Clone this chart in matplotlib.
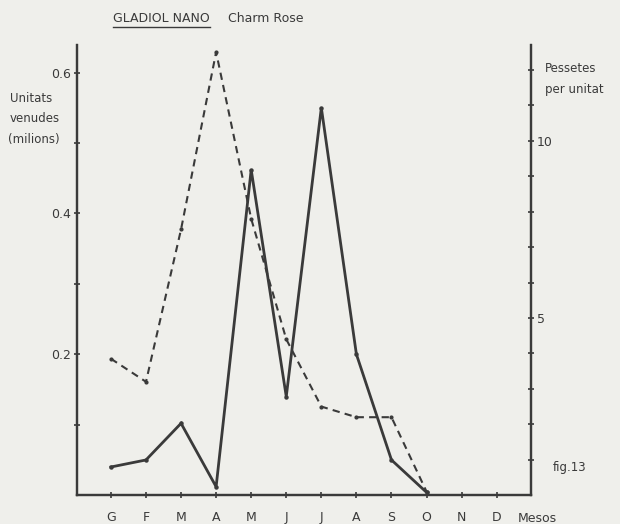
import matplotlib
matplotlib.use("Agg")
import matplotlib.pyplot as plt
from matplotlib.lines import Line2D

# valors llegits de la figura
mesos = ['G', 'F', 'M', 'A', 'M', 'J', 'J', 'A', 'S', 'O', 'N', 'D']
unitats = [0.040, 0.050, 0.102, 0.012, 0.462, 0.140, 0.550, 0.200, 0.050, 0.004]
pessetes = [3.85, 3.2, 7.5, 12.5, 7.8, 4.4, 2.5, 2.2, 2.2, 0.1]

ticks_esq = [0.1, 0.2, 0.3, 0.4, 0.5, 0.6]
etiq_esq = ['', '0.2', '', '0.4', '', '0.6']
ticks_dre = list(range(1, 13))
etiq_dre = ['', '', '', '', '5', '', '', '', '', '10', '', '']

fons = '#efefeb'
tinta = '#3a3a3a'
plt.rcParams['font.family'] = ['DejaVu Sans']

fig = plt.figure(figsize=(6.2, 5.24), dpi=100, facecolor=fons)
ax = fig.add_axes([0.124, 0.055, 0.732, 0.859])
ax.set_facecolor(fons)
ax2 = ax.twinx()

x_u = list(range(len(unitats)))
x_p = list(range(len(pessetes)))

ax.plot(x_u, unitats, color=tinta, lw=2.0, marker='o', ms=2.2,
        solid_joinstyle='miter', zorder=3)
ax2.plot(x_p, pessetes, color=tinta, lw=1.5, linestyle=(0, (3.5, 2.5)),
         marker='o', ms=2.0, zorder=3)

ax.set_xlim(-0.97, 11.97)
ax.set_ylim(0, 0.639)
ax2.set_ylim(0, 12.7)

for a in (ax, ax2):
    a.spines['top'].set_visible(False)
    for s in a.spines.values():
        s.set_color(tinta)
        s.set_linewidth(1.6)

ax.set_xticks(range(12))
ax.set_xticklabels(mesos)
ax.tick_params(axis='x', direction='inout', length=5, width=1.2, colors=tinta,
               labelsize=9, pad=9)

ax.set_yticks(ticks_esq)
ax.set_yticklabels(etiq_esq)
ax.tick_params(axis='y', direction='inout', length=5, width=1.2, colors=tinta,
               labelsize=9, pad=2)

ax2.set_yticks(ticks_dre)
ax2.set_yticklabels(etiq_dre)
ax2.tick_params(axis='y', direction='inout', length=5, width=1.2, colors=tinta,
                labelsize=9, pad=2)

# textos
fig.text(10 / 620, 1 - 99 / 524, 'Unitats', color=tinta, fontsize=8.5, va='center')
fig.text(10 / 620, 1 - 119 / 524, 'venudes', color=tinta, fontsize=8.5, va='center')
fig.text(8 / 620, 1 - 139 / 524, '(milions)', color=tinta, fontsize=8.5, va='center')
fig.text(545 / 620, 1 - 68 / 524, 'Pessetes', color=tinta, fontsize=8.5, va='center')
fig.text(545 / 620, 1 - 89 / 524, 'per unitat', color=tinta, fontsize=8.5, va='center')
fig.text(518 / 620, 1 - 518 / 524, 'Mesos', color=tinta, fontsize=9, va='center')
fig.text(553 / 620, 1 - 468 / 524, 'fig.13', color=tinta, fontsize=8.5, va='center')

t1 = fig.text(113 / 620, 1 - 18 / 524, 'GLADIOL NANO', color=tinta, fontsize=9,
              va='center')
fig.text(228 / 620, 1 - 18 / 524, 'Charm Rose', color=tinta, fontsize=9,
         va='center')

fig.canvas.draw()
bb = t1.get_window_extent().transformed(fig.transFigure.inverted())
fig.add_artist(Line2D([bb.x0, bb.x1], [bb.y0 - 0.004, bb.y0 - 0.004],
                      transform=fig.transFigure, color=tinta, lw=1.0))

fig.savefig('out.png', dpi=100, facecolor=fons)
